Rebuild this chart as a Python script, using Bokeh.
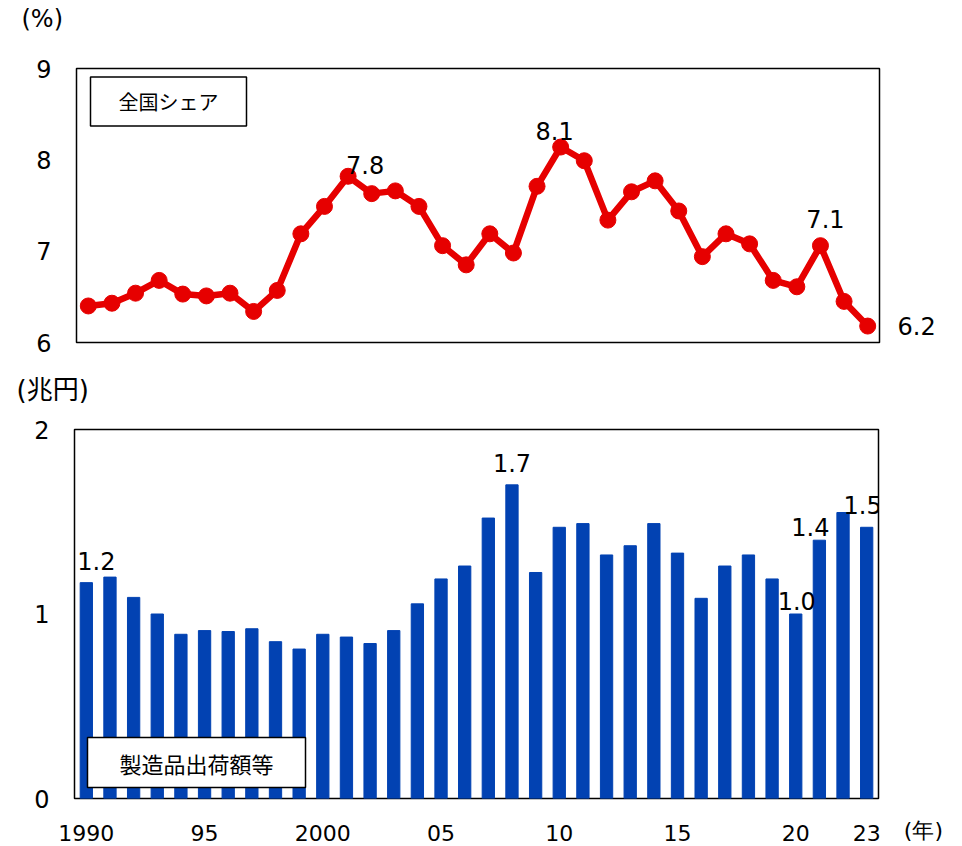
from bokeh.plotting import figure
from bokeh.models import Range1d, FixedTicker, Label, ColumnDataSource, Title, LinearAxis
from bokeh.layouts import column, row
from bokeh.embed import file_html
from bokeh.resources import INLINE
from bokeh.core.properties import value

# ---------------- data ----------------
years = list(range(1990, 2024))

share = [6.40, 6.43, 6.54, 6.68, 6.53, 6.51, 6.54, 6.34, 6.57, 7.19,
         7.49, 7.82, 7.63, 7.66, 7.49, 7.06, 6.85, 7.19, 6.98, 7.71,
         8.14, 7.99, 7.34, 7.65, 7.77, 7.44, 6.94, 7.19, 7.08, 6.68,
         6.61, 7.06, 6.45, 6.18]

shipments = [1.17, 1.20, 1.09, 1.00, 0.89, 0.91, 0.905, 0.92, 0.85, 0.81,
             0.89, 0.875, 0.84, 0.91, 1.055, 1.19, 1.26, 1.52, 1.70, 1.225,
             1.47, 1.49, 1.32, 1.37, 1.49, 1.33, 1.085, 1.26, 1.32, 1.19,
             1.00, 1.40, 1.55, 1.47]

share_label_years = [2001, 2010, 2021]      # labelled above the point
share_last_year = 2023                      # labelled to the right of the frame
ship_label_years = [1990, 2008, 2020, 2021, 2023]

tick_years = [1990, 1995, 2000, 2005, 2010, 2015, 2020, 2023]
tick_labels = ["1990", "95", "2000", "05", "10", "15", "20", "23"]

share_ticks = [6, 7, 8, 9]
ship_ticks = [0, 1, 2]

share_title = "全国シェア"
ship_title = "製造品出荷額等"
share_unit = "(%)"
ship_unit = "(兆円)"
year_unit = "(年)"

# ---------------- styles ----------------
RED = "#E60000"
BLUE = "#0242B2"
NUM_FONT = "DejaVu Sans"
JP_FONT = "Noto Sans CJK JP"
MIX_FONT = "DejaVu Sans, Noto Sans CJK JP"

share_dx = [17, -6, 5]
share_dy = [-11, -16, -27]
ship_dx = [10, 0, 1, -9, -4]
ship_dy = [-22, -22, -13, -13, -22]
YEAR_UNIT_POS = 0.37   # horizontal place of "(年)" in the small side panel


def style_common(p):
    p.xgrid.visible = False
    p.ygrid.visible = False
    p.outline_line_color = "black"
    p.outline_line_width = 1.5
    p.outline_line_alpha = 1.0
    p.background_fill_color = "white"
    p.border_fill_color = "white"
    for ax in p.yaxis:
        ax.axis_line_color = None
        ax.major_tick_line_color = None
        ax.minor_tick_line_color = None
        ax.major_tick_out = 0
        ax.major_label_text_font = NUM_FONT
        ax.major_label_text_font_size = "24px"
        ax.major_label_text_color = "black"
        ax.major_label_standoff = 25


def style_xaxis(xa, standoff):
    xa.axis_line_color = None
    xa.major_tick_line_color = None
    xa.minor_tick_line_color = None
    xa.major_tick_out = 0
    xa.major_label_standoff = standoff
    xa.major_label_text_font = NUM_FONT
    xa.major_label_text_font_size = "22px"
    xa.major_label_text_color = "black"


def unit_title(text, offset, size, line_height):
    # the blank second line lifts the unit text up, away from the frame
    return Title(text=text + "\n\u00a0", align="left", offset=offset, standoff=4,
                 vertical_align="bottom",
                 text_font=MIX_FONT, text_font_size=size,
                 text_line_height=line_height,
                 text_font_style="normal", text_color="black")


# ---------------- top: share ----------------
p1 = figure(width=962, height=366,
            x_range=Range1d(1989.5, 2023.5), y_range=Range1d(6, 9),
            output_backend="svg", toolbar_location=None,
            x_axis_location=None,
            min_border_left=76, min_border_right=83,
            min_border_top=65, min_border_bottom=24)
style_common(p1)
p1.yaxis.ticker = FixedTicker(ticks=share_ticks)

p1.line(years, share, line_color=RED, line_width=6.5)
p1.scatter(years, share, size=16, fill_color=RED, line_color=RED)

src1 = ColumnDataSource(dict(
    x=share_label_years,
    y=[share[years.index(y)] for y in share_label_years],
    text=[f"{share[years.index(y)]:.1f}" for y in share_label_years],
    dx=share_dx, dy=share_dy))
p1.text(x="x", y="y", text="text", x_offset="dx", y_offset="dy", source=src1,
        text_align="center", text_baseline="alphabetic",
        text_font=value(NUM_FONT), text_font_size="24px", text_color="black")

# value of the last year, shown to the right of the frame
last_val = share[years.index(share_last_year)]
ra = LinearAxis(ticker=FixedTicker(ticks=[last_val]),
                major_label_overrides={last_val: f"{last_val:.1f}"})
ra.axis_line_color = None
ra.major_tick_line_color = None
ra.minor_tick_line_color = None
ra.major_tick_out = 0
ra.major_label_standoff = 18
ra.major_label_text_font = NUM_FONT
ra.major_label_text_font_size = "24px"
ra.major_label_text_color = "black"
p1.add_layout(ra, "right")

p1.add_layout(Label(x=92, y=241, x_units="screen", y_units="screen",
                    text=share_title, text_align="center", text_baseline="middle",
                    text_font=JP_FONT, text_font_size="20px", text_color="black",
                    background_fill_color="white", border_line_color="black",
                    border_line_width=1.5, padding=dict(x=28, y=10)))
p1.add_layout(unit_title(share_unit, -55, "24px", 1.2), "above")

# ---------------- bottom: shipments ----------------
p2 = figure(width=900, height=479,
            x_range=Range1d(1989.5, 2023.5), y_range=Range1d(0, 2),
            output_backend="svg", toolbar_location=None,
            min_border_left=74, min_border_right=22,
            min_border_top=63, min_border_bottom=47)
style_common(p2)
p2.yaxis.ticker = FixedTicker(ticks=ship_ticks)

p2.vbar(x=years, top=shipments, width=0.52, fill_color=BLUE, line_color=BLUE)

xa = p2.xaxis[0]
xa.ticker = FixedTicker(ticks=tick_years)
xa.major_label_overrides = {y: t for y, t in zip(tick_years, tick_labels)}
style_xaxis(xa, 26)

src2 = ColumnDataSource(dict(
    x=ship_label_years,
    y=[shipments[years.index(y)] for y in ship_label_years],
    text=[f"{shipments[years.index(y)]:.1f}" for y in ship_label_years],
    dx=ship_dx, dy=ship_dy))
p2.text(x="x", y="y", text="text", x_offset="dx", y_offset="dy", source=src2,
        text_align="center", text_baseline="alphabetic",
        text_font=value(NUM_FONT), text_font_size="24px", text_color="black")

p2.add_layout(Label(x=122, y=36, x_units="screen", y_units="screen",
                    text=ship_title, text_align="center", text_baseline="middle",
                    text_font=JP_FONT, text_font_size="22px", text_color="black",
                    background_fill_color="white", border_line_color="black",
                    border_line_width=1.5, padding=dict(x=32, y=9)))
p2.add_layout(unit_title(ship_unit, -58, "26px", 0.75), "above")

# ---------------- x-axis unit "(年)", on the tick-label line ----------------
p3 = figure(width=62, height=479, x_range=Range1d(0, 1), y_range=Range1d(0, 1),
            output_backend="svg", toolbar_location=None,
            y_axis_location=None,
            min_border_left=0, min_border_right=0,
            min_border_top=63, min_border_bottom=47)
p3.xgrid.visible = False
p3.ygrid.visible = False
p3.outline_line_color = None
p3.background_fill_color = "white"
p3.border_fill_color = "white"
xa3 = p3.xaxis[0]
xa3.ticker = FixedTicker(ticks=[YEAR_UNIT_POS])
xa3.major_label_overrides = {YEAR_UNIT_POS: year_unit}
style_xaxis(xa3, 19)

layout = column(p1, row(p2, p3, spacing=0), spacing=0)

with open("out.html", "w") as f:
    f.write(file_html(layout, INLINE))
